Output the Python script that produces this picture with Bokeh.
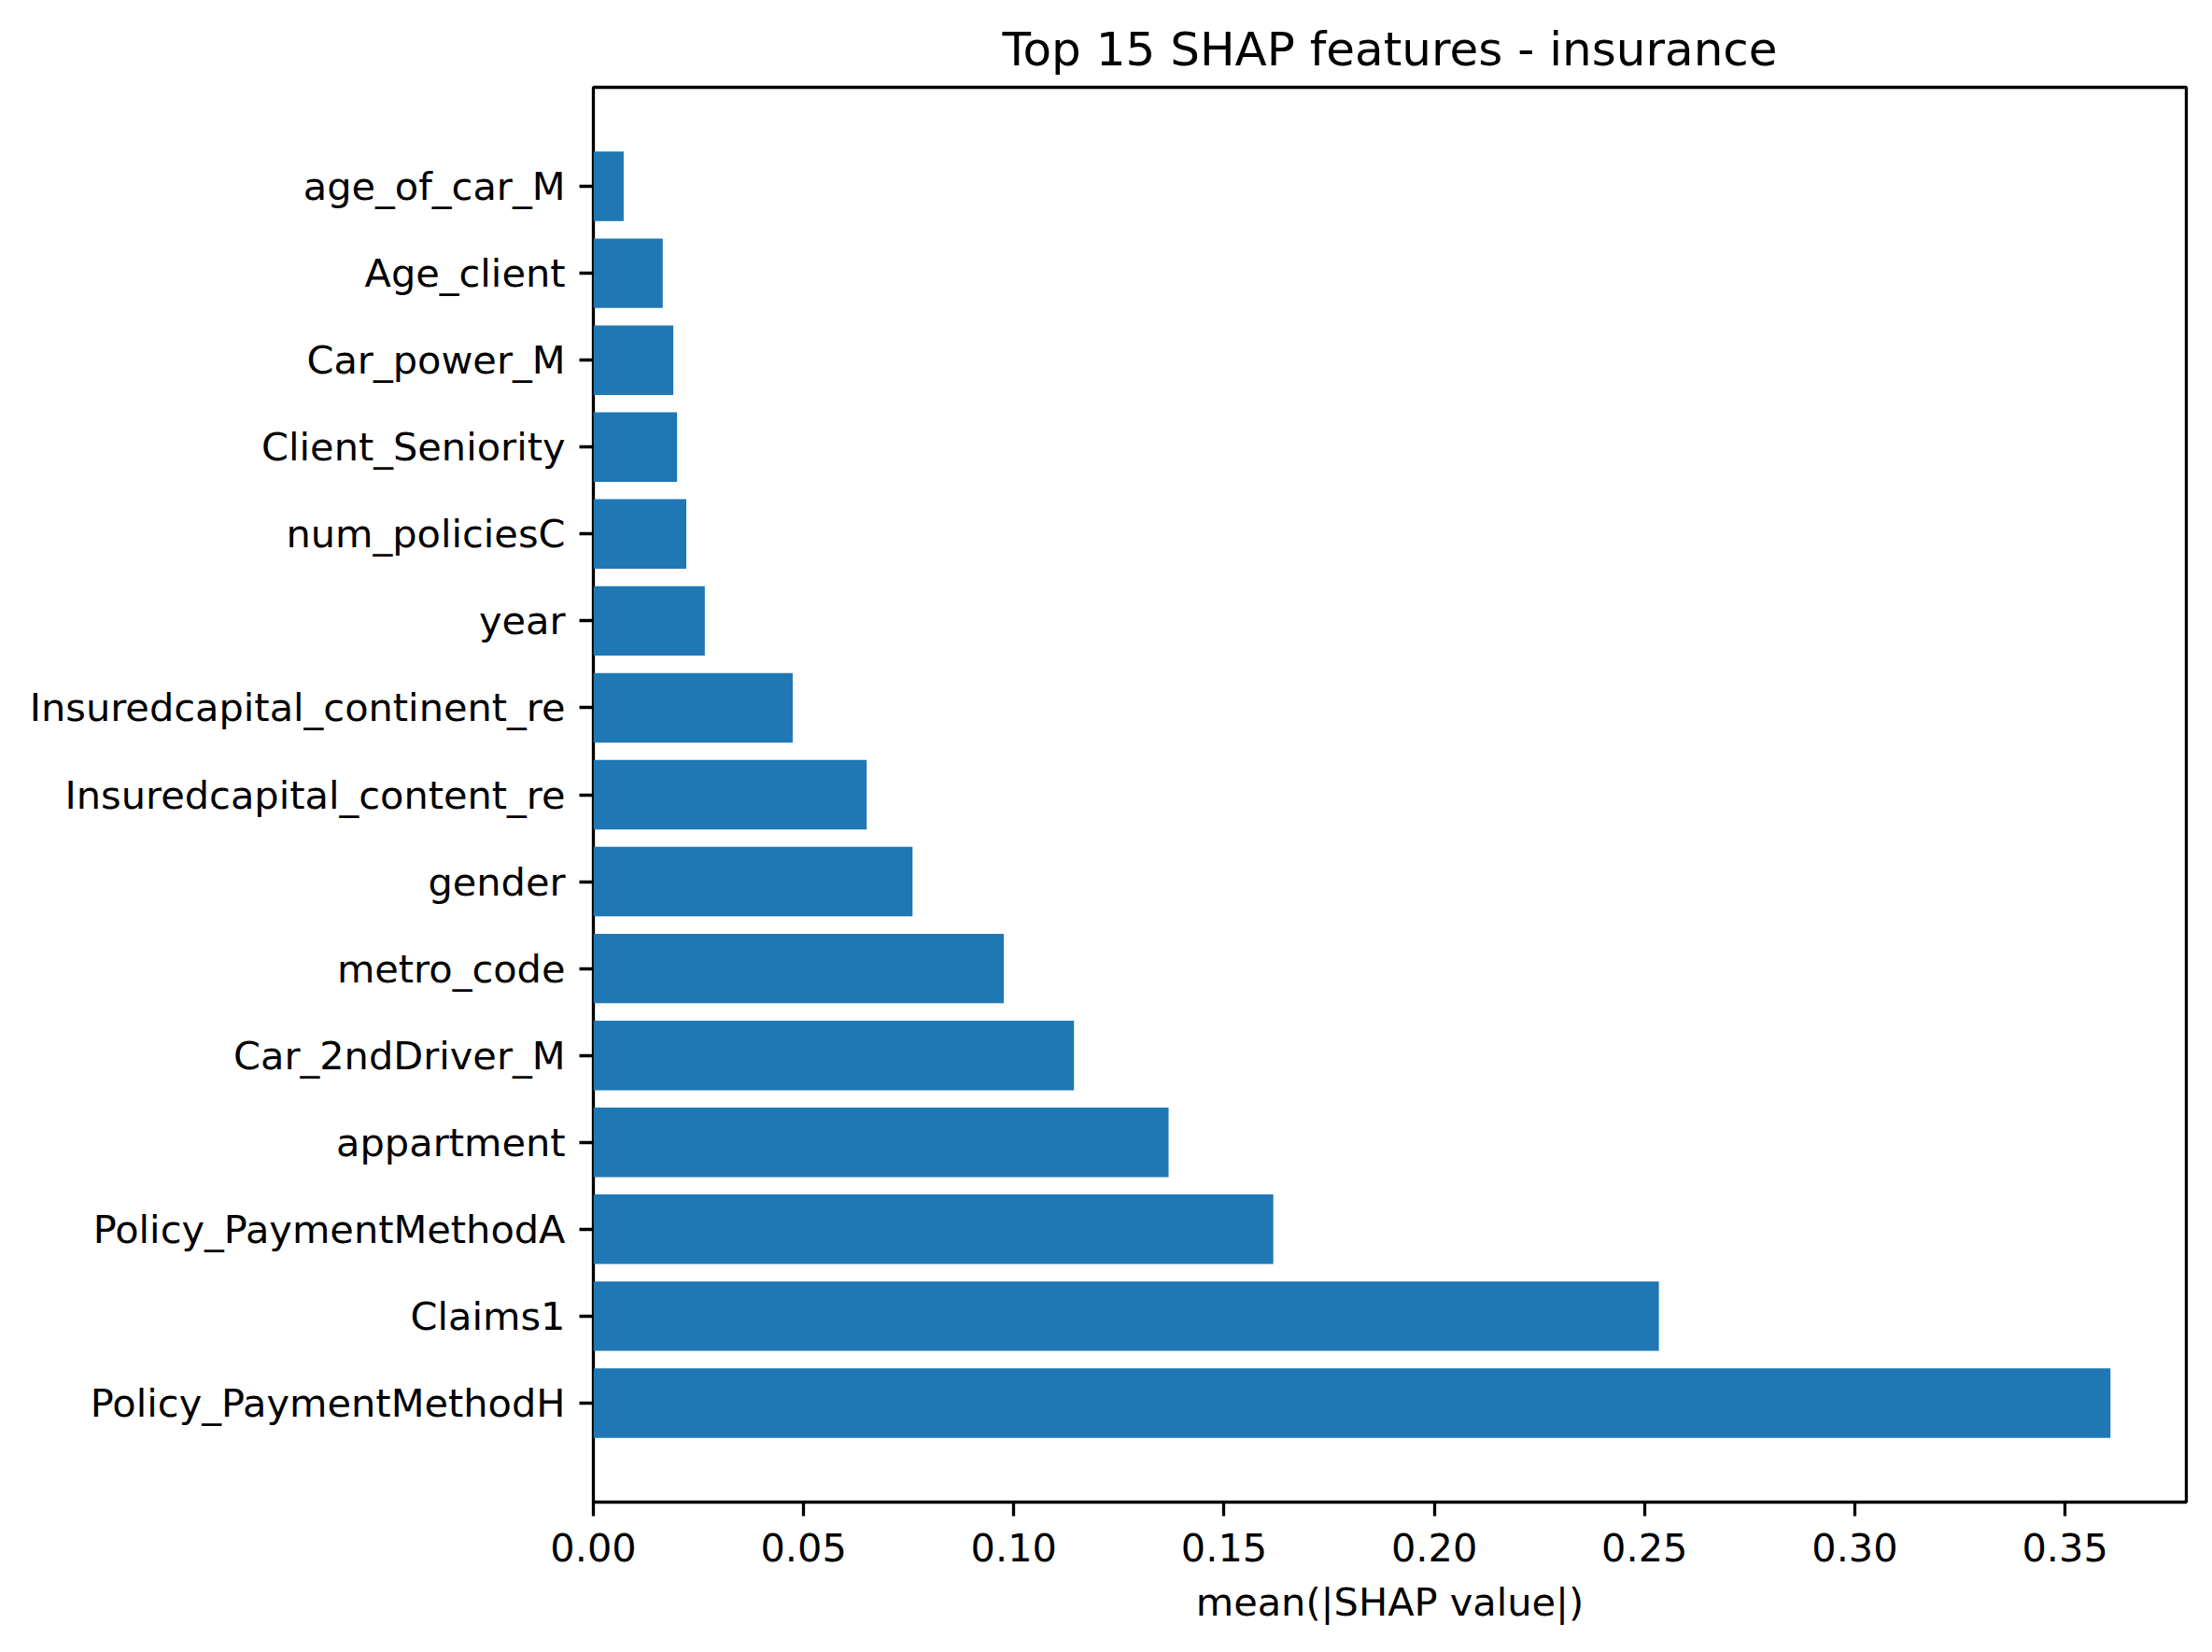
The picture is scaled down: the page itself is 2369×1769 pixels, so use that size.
from bokeh.plotting import figure
from bokeh.models import Range1d, FixedTicker, NumeralTickFormatter, ColumnDataSource
from bokeh.embed import file_html
from bokeh.resources import INLINE

features = [
    "Policy_PaymentMethodH", "Claims1", "Policy_PaymentMethodA", "appartment",
    "Car_2ndDriver_M", "metro_code", "gender", "Insuredcapital_content_re",
    "Insuredcapital_continent_re", "year", "num_policiesC", "Client_Seniority",
    "Car_power_M", "Age_client", "age_of_car_M",
]
shap_values = [
    0.3608, 0.2534, 0.1617, 0.1368, 0.1143, 0.0976, 0.0759, 0.0650,
    0.0474, 0.0265, 0.0221, 0.0199, 0.0190, 0.0165, 0.0072,
]
x_ticks = [0.0, 0.05, 0.10, 0.15, 0.20, 0.25, 0.30, 0.35]

positions = list(range(len(features)))
bar_h = 0.8
lo = -bar_h / 2
hi = positions[-1] + bar_h / 2
pad = 0.05 * (hi - lo)

src = ColumnDataSource(dict(y=positions, right=shap_values, name=features))

FONT = "DejaVu Sans"

p = figure(
    width=2353, height=1753,
    output_backend="svg", toolbar_location=None,
    x_range=Range1d(0, max(shap_values) * 1.05),
    y_range=Range1d(lo - pad, hi + pad),
    min_border_left=635, min_border_right=12,
    min_border_top=93, min_border_bottom=145,
    title="Top 15 SHAP features - insurance",
)
p.hbar(y="y", left=0, right="right", height=bar_h, source=src,
       fill_color="#1f77b4", line_color=None)

p.title.align = "center"
p.title.text_font = FONT
p.title.text_font_size = "50px"
p.title.text_font_style = "normal"
p.title.text_color = "black"
p.title.standoff = 24

p.xgrid.visible = False
p.ygrid.visible = False
p.outline_line_color = "black"
p.outline_line_width = 3.3
p.outline_line_alpha = 1.0

xa = p.xaxis[0]
xa.ticker = FixedTicker(ticks=x_ticks)
xa.formatter = NumeralTickFormatter(format="0.00")
xa.axis_label = "mean(|SHAP value|)"
ya = p.yaxis[0]
ya.ticker = FixedTicker(ticks=positions)
ya.major_label_overrides = {i: f for i, f in zip(positions, features)}

for ax in (xa, ya):
    ax.axis_line_color = None
    ax.major_tick_line_color = "black"
    ax.major_tick_line_width = 3.3
    ax.major_tick_out = 15
    ax.major_tick_in = 0
    ax.minor_tick_line_color = None
    ax.major_label_text_font = FONT
    ax.major_label_text_font_size = "41.5px"
    ax.major_label_text_color = "black"
    ax.axis_label_text_font = FONT
    ax.axis_label_text_font_size = "41.5px"
    ax.axis_label_text_font_style = "normal"
    ax.axis_label_text_color = "black"

xa.major_label_standoff = 18
xa.axis_label_standoff = 16
ya.major_label_standoff = 15

open("out.html", "w").write(file_html(p, INLINE))
